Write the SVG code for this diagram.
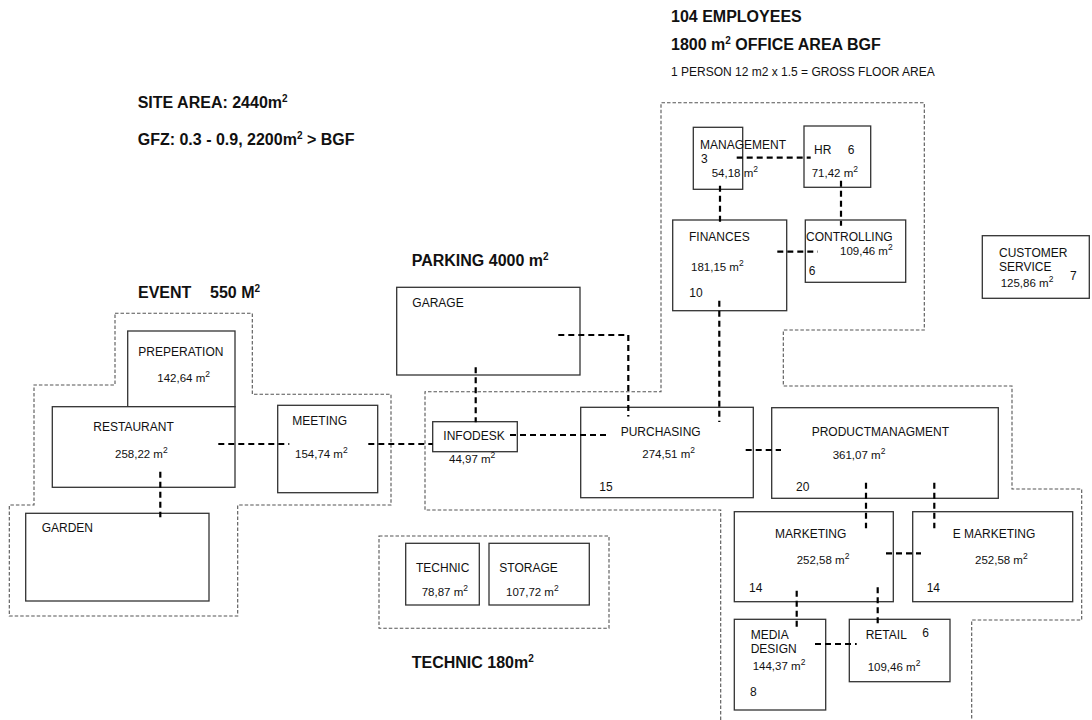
<svg xmlns="http://www.w3.org/2000/svg" width="1092" height="720" viewBox="0 0 1092 720">
<style>
text{font-family:"Liberation Sans",Arial,sans-serif;fill:#111}
.h{font-size:16px;font-weight:bold}
.l{font-size:12px}
.a{font-size:11.5px}
.sup{font-size:8.5px}
.hs{font-size:10px}
.box{fill:#fff;stroke:#333;stroke-width:1.3}
.zone{fill:none;stroke:#555;stroke-width:1.1;stroke-dasharray:3.5,2}
.con{fill:none;stroke:#000;stroke-width:2.2;stroke-dasharray:6,4}
</style>
<rect width="1092" height="720" fill="#fff"/>
<g id="zones">
<path class="zone" d="M720.7,720 V510 H425 V391.7 H661 V102.7 H924.3 V330 H783.3 V386 H1012 V489 H1081.7 V620 H971.7 V720"/>
<path class="zone" d="M115,313.3 H252.3 V394.3 H391 V505 H237.7 V616 H9.3 V505 H34 V385 H115 Z"/>
<rect class="zone" x="379" y="536" width="230" height="92.3"/>
</g>
<g id="headings">
<text class="h" x="671" y="22">104 EMPLOYEES</text>
<text class="h" x="671" y="50">1800 m<tspan class="hs" dy="-6">2</tspan><tspan dy="6"> OFFICE AREA BGF</tspan></text>
<text class="l" x="671" y="76">1 PERSON 12 m2 x 1.5 = GROSS FLOOR AREA</text>
<text class="h" x="137.7" y="108">SITE AREA: 2440m<tspan class="hs" dy="-6">2</tspan></text>
<text class="h" x="137.7" y="145">GFZ: 0.3 - 0.9, 2200m<tspan class="hs" dy="-6">2</tspan><tspan dy="6"> &gt; BGF</tspan></text>
<text class="h" x="138" y="298">EVENT<tspan x="210">550 M</tspan><tspan class="hs" dy="-6">2</tspan></text>
<text class="h" x="411.7" y="266">PARKING 4000 m<tspan class="hs" dy="-6">2</tspan></text>
<text class="h" x="411.7" y="668">TECHNIC 180m<tspan class="hs" dy="-6">2</tspan></text>
</g>
<g id="management"><rect class="box" x="693.3" y="127.3" width="49.4" height="62"/>
<text class="l" x="700" y="149">MANAGEMENT</text><text class="l" x="701" y="162.7">3</text>
<text class="a" x="711.7" y="177">54,18 m<tspan class="sup" dy="-5">2</tspan></text></g>
<g id="hr"><rect class="box" x="804" y="126" width="66.7" height="61.3"/>
<text class="l" x="814" y="154">HR</text><text class="l" x="847.7" y="154">6</text>
<text class="a" x="811.7" y="177.3">71,42 m<tspan class="sup" dy="-5">2</tspan></text></g>
<g id="finances"><rect class="box" x="672.7" y="220" width="114" height="90.7"/>
<text class="l" x="689" y="240.7">FINANCES</text>
<text class="a" x="691" y="270.7">181,15 m<tspan class="sup" dy="-5">2</tspan></text>
<text class="l" x="689.3" y="297.3">10</text></g>
<g id="controlling"><rect class="box" x="805.3" y="220" width="100.4" height="62.3"/>
<text class="l" x="806" y="240.7">CONTROLLING</text>
<text class="a" x="840" y="255">109,46 m<tspan class="sup" dy="-5">2</tspan></text>
<text class="l" x="808.7" y="275">6</text></g>
<g id="customer-service"><rect class="box" x="982.3" y="235.7" width="107" height="62.6"/>
<text class="l" x="999" y="256.7">CUSTOMER</text><text class="l" x="999" y="270.7">SERVICE</text>
<text class="a" x="1000.7" y="287.3">125,86 m<tspan class="sup" dy="-5">2</tspan></text>
<text class="l" x="1070" y="280">7</text></g>
<g id="preperation"><rect class="box" x="127.7" y="331" width="107.3" height="75.7"/>
<text class="l" x="138.3" y="356">PREPERATION</text>
<text class="a" x="157.3" y="381.7">142,64 m<tspan class="sup" dy="-5">2</tspan></text></g>
<g id="restaurant"><rect class="box" x="52.3" y="406.7" width="182.7" height="80.6"/>
<text class="l" x="93.3" y="431">RESTAURANT</text>
<text class="a" x="115" y="458.3">258,22 m<tspan class="sup" dy="-5">2</tspan></text></g>
<g id="meeting"><rect class="box" x="277.7" y="405.3" width="100" height="87.4"/>
<text class="l" x="292.3" y="425">MEETING</text>
<text class="a" x="295" y="458.3">154,74 m<tspan class="sup" dy="-5">2</tspan></text></g>
<g id="garden"><rect class="box" x="25.7" y="513.3" width="183.3" height="87.7"/>
<text class="l" x="41.7" y="532.3">GARDEN</text></g>
<g id="garage"><rect class="box" x="396.7" y="287.3" width="183.3" height="87.7"/>
<text class="l" x="412.3" y="306.7">GARAGE</text></g>
<g id="infodesk"><rect class="box" x="432.7" y="421.7" width="84.6" height="30"/>
<text class="l" x="443.3" y="440">INFODESK</text>
<text class="a" x="449" y="463.3">44,97 m<tspan class="sup" dy="-5">2</tspan></text></g>
<g id="purchasing"><rect class="box" x="580.7" y="407.3" width="172.6" height="90.4"/>
<text class="l" x="620.7" y="435.7">PURCHASING</text>
<text class="a" x="642.3" y="458.3">274,51 m<tspan class="sup" dy="-5">2</tspan></text>
<text class="l" x="599.3" y="490.7">15</text></g>
<g id="productmanagment"><rect class="box" x="771.7" y="407.7" width="226.6" height="90.6"/>
<text class="l" x="811.7" y="436">PRODUCTMANAGMENT</text>
<text class="a" x="832.7" y="459.3">361,07 m<tspan class="sup" dy="-5">2</tspan></text>
<text class="l" x="796" y="491">20</text></g>
<g id="marketing"><rect class="box" x="734.3" y="511.7" width="159" height="90"/>
<text class="l" x="775" y="538.3">MARKETING</text>
<text class="a" x="796.7" y="564">252,58 m<tspan class="sup" dy="-5">2</tspan></text>
<text class="l" x="749" y="592.3">14</text></g>
<g id="e-marketing"><rect class="box" x="912.7" y="511.7" width="160" height="90"/>
<text class="l" x="952.7" y="538.3">E MARKETING</text>
<text class="a" x="975" y="564">252,58 m<tspan class="sup" dy="-5">2</tspan></text>
<text class="l" x="926.7" y="592.3">14</text></g>
<g id="media-design"><rect class="box" x="734.3" y="619.3" width="91.4" height="90.7"/>
<text class="l" x="750.7" y="639.3">MEDIA</text><text class="l" x="750.7" y="652.7">DESIGN</text>
<text class="a" x="752.7" y="670">144,37 m<tspan class="sup" dy="-5">2</tspan></text>
<text class="l" x="750" y="696">8</text></g>
<g id="retail"><rect class="box" x="849.3" y="619.3" width="100.7" height="62.4"/>
<text class="l" x="865.7" y="639.3">RETAIL</text><text class="l" x="922.3" y="636.7">6</text>
<text class="a" x="867.7" y="670.7">109,46 m<tspan class="sup" dy="-5">2</tspan></text></g>
<g id="technic"><rect class="box" x="405.7" y="543.3" width="73.6" height="61.7"/>
<text class="l" x="416" y="572.3">TECHNIC</text>
<text class="a" x="421.7" y="596">78,87 m<tspan class="sup" dy="-5">2</tspan></text></g>
<g id="storage"><rect class="box" x="489" y="543.3" width="100.3" height="61.7"/>
<text class="l" x="499.3" y="572.3">STORAGE</text>
<text class="a" x="506" y="596">107,72 m<tspan class="sup" dy="-5">2</tspan></text></g>
<g id="connectors">
<path class="con" d="M736.7,157.7 H810.7"/>
<path class="con" d="M720,185.7 V225.7"/>
<path class="con" d="M841,180.7 V225.7"/>
<path class="con" d="M777.3,251.7 H817.7"/>
<path class="con" d="M719.3,300.7 V422"/>
<path class="con" d="M558.3,335 H628.3 V416.5"/>
<path class="con" d="M475.7,367.3 V422.3"/>
<path class="con" d="M510,435 H609.5"/>
<path class="con" d="M368.3,444 H432.7"/>
<path class="con" d="M218.3,444 H289.3"/>
<path class="con" d="M160.3,471.7 V517.3"/>
<path class="con" d="M745.7,450 H781"/>
<path class="con" d="M866,482.7 V528.3"/>
<path class="con" d="M934.3,482.7 V528.3"/>
<path class="con" d="M886,553.3 H921"/>
<path class="con" d="M796.7,590.7 V628.3"/>
<path class="con" d="M877.7,587.3 V626"/>
<path class="con" d="M815,644 H856.7"/>
</g>
</svg>
